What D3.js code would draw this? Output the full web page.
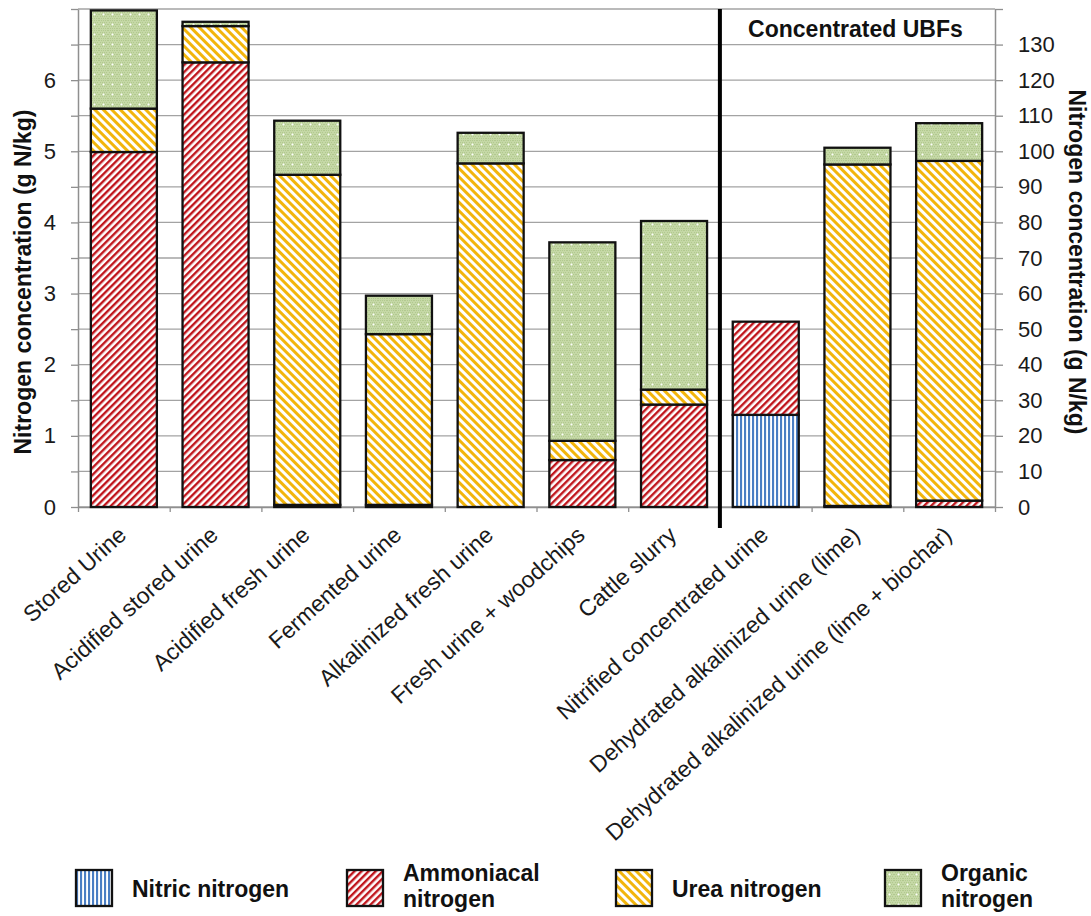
<!DOCTYPE html>
<html><head><meta charset="utf-8">
<script src="https://cdn.jsdelivr.net/npm/d3@7"></script>
<style>
body{margin:0;background:#fff;}
svg{display:block;font-family:"Liberation Sans",Arial,Helvetica,sans-serif;}
</style>
</head><body>
<svg id="chart" width="1091" height="916"></svg>
<script>
// ---------- data ----------
const categories = ["Stored Urine","Acidified stored urine","Acidified fresh urine","Fermented urine",
  "Alkalinized fresh urine","Fresh urine + woodchips","Cattle slurry","Nitrified concentrated urine",
  "Dehydrated alkalinized urine (lime)","Dehydrated alkalinized urine (lime + biochar)"];
// which y-axis each bar is read against
const axisGroup = ["left","left","left","left","left","left","left","right","right","right"];
const nitric     = [0, 0, 0, 0, 0, 0, 0, 25.9, 0, 0];
const ammoniacal = [4.99, 6.25, 0.03, 0.03, 0, 0.66, 1.44, 26.2, 0.3, 1.8];
const urea       = [0.61, 0.51, 4.64, 2.40, 4.83, 0.27, 0.21, 0, 96.0, 95.5];
const organic    = [1.38, 0.06, 0.76, 0.54, 0.43, 2.79, 2.37, 0, 4.7, 10.6];
const seriesKeys = ["nitric","ammoniacal","urea","organic"];
const legendLabels = [["Nitric nitrogen"],["Ammoniacal","nitrogen"],["Urea nitrogen"],["Organic","nitrogen"]];
const leftTicks  = [0,1,2,3,4,5,6];
const rightTicks = [0,10,20,30,40,50,60,70,80,90,100,110,120,130];
const leftMax = 7, rightMax = 140;
const sectionLabel = "Concentrated UBFs";
const sectionStart = 7; // index of first concentrated bar
const yTitle = "Nitrogen concentration (g N/kg)";

// ---------- layout ----------
const X0 = 78, X1 = 995, Y0 = 507, Y1 = 9;
const svg = d3.select("#chart");

const x = d3.scaleBand().domain(d3.range(categories.length)).range([X0, X1])
  .paddingInner(0.28).paddingOuter(0.14);
const xb = d3.scaleLinear().domain([0, categories.length]).range([X0, X1]);
const yL = d3.scaleLinear().domain([0, leftMax]).range([Y0, Y1]);
const yR = d3.scaleLinear().domain([0, rightMax]).range([Y0, Y1]);

// ---------- patterns ----------
const defs = svg.append("defs");
const colors = {nitric:"#4a7ec3", ammoniacal:"#c0151c", urea:"#f2b50c", organic:"#c5d8a6"};

let p = defs.append("pattern").attr("id","pat-nitric").attr("patternUnits","userSpaceOnUse")
  .attr("width",4).attr("height",4);
p.append("rect").attr("width",4).attr("height",4).attr("fill","#fff");
p.append("rect").attr("width",2.1).attr("height",4).attr("fill",colors.nitric);

p = defs.append("pattern").attr("id","pat-ammoniacal").attr("patternUnits","userSpaceOnUse")
  .attr("width",5).attr("height",5).attr("patternTransform","rotate(45)");
p.append("rect").attr("width",5).attr("height",5).attr("fill","#fff");
p.append("rect").attr("width",2.4).attr("height",5).attr("fill",colors.ammoniacal);

p = defs.append("pattern").attr("id","pat-urea").attr("patternUnits","userSpaceOnUse")
  .attr("width",6).attr("height",6).attr("patternTransform","rotate(-45)");
p.append("rect").attr("width",6).attr("height",6).attr("fill","#fff");
p.append("rect").attr("width",3).attr("height",6).attr("fill",colors.urea);

p = defs.append("pattern").attr("id","pat-organic").attr("patternUnits","userSpaceOnUse")
  .attr("width",9).attr("height",10);
p.append("rect").attr("width",9).attr("height",10).attr("fill",colors.organic);
for (let i=0;i<9;i+=2) for (let j=0;j<10;j+=2)
  p.append("rect").attr("x",i+((j/2)%2)).attr("y",j).attr("width",1).attr("height",1).attr("fill","#b2c98f");
p.append("rect").attr("x",3.5).attr("y",4).attr("width",2).attr("height",0.9).attr("fill","#fff").attr("opacity",0.9);
p.append("rect").attr("x",4.05).attr("y",3.45).attr("width",0.9).attr("height",2).attr("fill","#fff").attr("opacity",0.9);

// ---------- grid ----------
const gridVals = d3.range(0, leftMax + 0.001, 0.5);
svg.append("g").selectAll("line").data(gridVals).join("line")
  .attr("x1", X0).attr("x2", X1).attr("y1", d => yL(d)).attr("y2", d => yL(d))
  .attr("stroke", "#a3a3a3").attr("stroke-width", 1.3);

// ---------- axes ----------
const fmtL = d => leftTicks.includes(d) ? d : "";
const axL = svg.append("g").attr("transform", `translate(${X0},0)`)
  .call(d3.axisLeft(yL).tickValues(gridVals).tickSize(7).tickSizeOuter(0).tickPadding(15).tickFormat(fmtL));
const rVals = d3.range(0, rightMax + 0.001, 10);
const axR = svg.append("g").attr("transform", `translate(${X1},0)`)
  .call(d3.axisRight(yR).tickValues(rVals).tickSize(8).tickSizeOuter(0).tickPadding(15)
    .tickFormat(d => rightTicks.includes(d) ? d : ""));
const axB = svg.append("g").attr("transform", `translate(0,${Y0})`)
  .call(d3.axisBottom(xb).tickValues(d3.range(0, categories.length + 1)).tickSize(5).tickSizeOuter(0).tickFormat(""));
[axL, axR, axB].forEach(g => {
  g.selectAll("path.domain").attr("stroke", "#8f8f8f").attr("stroke-width", 1.5);
  g.selectAll(".tick line").attr("stroke", "#8f8f8f").attr("stroke-width", 1.3);
  g.selectAll(".tick text").attr("font-size", 22).attr("fill", "#1a1a1a")
    .attr("font-family", "'Liberation Sans', Arial, sans-serif");
});

// ---------- bars ----------
const rows = categories.map((c, i) => ({
  i, nitric: nitric[i], ammoniacal: ammoniacal[i], urea: urea[i], organic: organic[i]
}));
const stacked = d3.stack().keys(seriesKeys)(rows);
const barsG = svg.append("g");
stacked.forEach(layer => {
  barsG.append("g").selectAll("rect")
    .data(layer.filter(d => d[1] - d[0] > 0))
    .join("rect")
    .attr("x", d => x(d.data.i))
    .attr("width", x.bandwidth())
    .attr("y", d => (axisGroup[d.data.i] === "left" ? yL : yR)(d[1]))
    .attr("height", d => { const s = axisGroup[d.data.i] === "left" ? yL : yR; return s(d[0]) - s(d[1]); })
    .attr("fill", `url(#pat-${layer.key})`)
    .attr("stroke", "#111").attr("stroke-width", 2.3);
});

// ---------- separator & section label ----------
svg.append("line").attr("x1", xb(sectionStart)).attr("x2", xb(sectionStart))
  .attr("y1", Y1).attr("y2", Y0 + 21).attr("stroke", "#000").attr("stroke-width", 4);
svg.append("text").attr("x", (xb(sectionStart) + X1) / 2 - 2).attr("y", 37)
  .attr("text-anchor", "middle").attr("font-size", 23).attr("font-weight", "bold").attr("fill", "#111")
  .text(sectionLabel);

// ---------- category labels ----------
svg.append("g").selectAll("text").data(categories).join("text")
  .attr("transform", (d, i) => `translate(${x(i) + x.bandwidth() / 2 + 4},${537}) rotate(-42)`)
  .attr("text-anchor", "end").attr("font-size", 23).attr("fill", "#1a1a1a")
  .text(d => d);

// ---------- axis titles ----------
svg.append("text").attr("transform", "translate(23,282) rotate(-90)")
  .attr("text-anchor", "middle").attr("dominant-baseline", "central")
  .attr("font-size", 23).attr("font-weight", "bold").attr("fill", "#111").text(yTitle);
svg.append("text").attr("transform", "translate(1077,262) rotate(90)")
  .attr("text-anchor", "middle").attr("dominant-baseline", "central")
  .attr("font-size", 23).attr("font-weight", "bold").attr("fill", "#111").text(yTitle);

// ---------- legend ----------
const legX = [76, 347, 616, 885];
const leg = svg.append("g");
seriesKeys.forEach((k, i) => {
  const g = leg.append("g").attr("transform", `translate(${legX[i]},870)`);
  g.append("rect").attr("width", 36).attr("height", 36).attr("fill", `url(#pat-${k})`)
    .attr("stroke", "#111").attr("stroke-width", 2.3);
  const lines = legendLabels[i];
  const t = g.append("text").attr("x", 56).attr("font-size", 23).attr("font-weight", "bold").attr("fill", "#111");
  if (lines.length === 1) {
    t.append("tspan").attr("x", 56).attr("y", 27).text(lines[0]);
  } else {
    t.append("tspan").attr("x", 56).attr("y", 11).text(lines[0]);
    t.append("tspan").attr("x", 56).attr("y", 37).text(lines[1]);
  }
});
</script>
</body></html>
